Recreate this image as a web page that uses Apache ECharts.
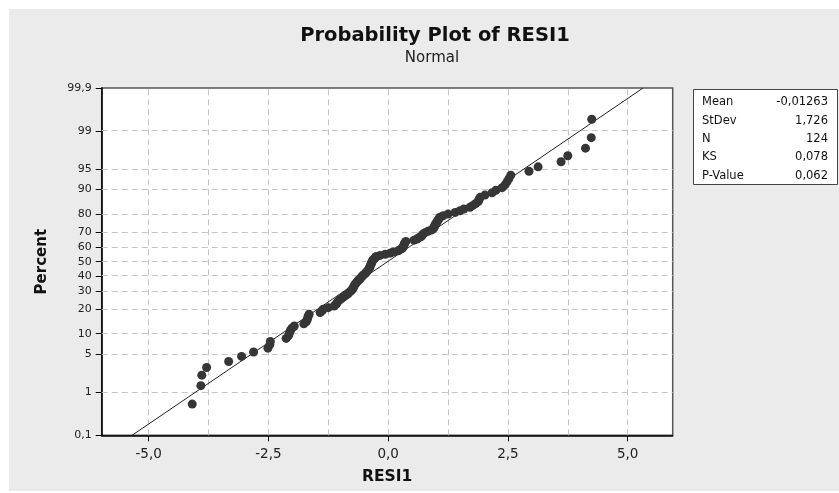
<!DOCTYPE html>
<html>
<head>
<meta charset="utf-8">
<script src="https://cdn.jsdelivr.net/npm/echarts@6/dist/echarts.min.js"></script>
<style>
html,body{margin:0;padding:0;background:#ffffff;}
#chart{width:839px;height:493px;}
</style>
</head>
<body>
<div id="chart"></div>
<script>
// ---- data ----
// sorted residuals (RESI1), one per observation
const residuals = [
  -4.09, -3.91, -3.89, -3.79, -3.33, -3.06, -2.81, -2.51, -2.47, -2.46,
  -2.13, -2.08, -2.06, -2.04, -2.01, -1.96, -1.76, -1.71, -1.69, -1.68,
  -1.67, -1.65, -1.42, -1.38, -1.36, -1.25, -1.13, -1.09, -1.07, -1.05,
  -1.02, -0.98, -0.94, -0.90, -0.86, -0.83, -0.80, -0.77, -0.75, -0.73,
  -0.72, -0.71, -0.69, -0.67, -0.65, -0.63, -0.60, -0.58, -0.56, -0.54,
  -0.51, -0.48, -0.46, -0.44, -0.42, -0.40, -0.39, -0.38, -0.37, -0.36,
  -0.35, -0.34, -0.33, -0.32, -0.29, -0.27, -0.25, -0.17, -0.06, 0.04,
  0.10, 0.21, 0.25, 0.29, 0.31, 0.32, 0.33, 0.34, 0.35, 0.37,
  0.54, 0.60, 0.64, 0.69, 0.71, 0.73, 0.77, 0.83, 0.90, 0.94,
  0.96, 0.97, 0.98, 1.00, 1.02, 1.04, 1.06, 1.08, 1.15, 1.25,
  1.40, 1.50, 1.58, 1.71, 1.77, 1.83, 1.88, 1.90, 1.92, 2.02,
  2.17, 2.25, 2.38, 2.44, 2.48, 2.52, 2.56, 2.94, 3.13, 3.61,
  3.75, 4.12, 4.24, 4.25
];
const fitMean = -0.01263;
const fitStDev = 1.726;
const percentTicks = [0.1, 1, 5, 10, 20, 30, 40, 50, 60, 70, 80, 90, 95, 99, 99.9];
const percentTickLabels = ['0,1','1','5','10','20','30','40','50','60','70','80','90','95','99','99,9'];
const xGridValues = [-5, -3.75, -2.5, -1.25, 0, 1.25, 2.5, 3.75, 5];
const xTickValues = [-5, -2.5, 0, 2.5, 5];
const xTickLabels = ['-5,0', '-2,5', '0,0', '2,5', '5,0'];
const statLabels = ['Mean', 'StDev', 'N', 'KS', 'P-Value'];
const statValues = ['-0,01263', '1,726', '124', '0,078', '0,062'];

// ---- normal probability scale ----
function normInv(p) {
  const a=[-3.969683028665376e+01,2.209460984245205e+02,-2.759285104469687e+02,1.383577518672690e+02,-3.066479806614716e+01,2.506628277459239e+00];
  const b=[-5.447609879822406e+01,1.615858368580409e+02,-1.556989798598866e+02,6.680131188771972e+01,-1.328068155288572e+01];
  const c=[-7.784894002430293e-03,-3.223964580411365e-01,-2.400758277161838e+00,-2.549732539343734e+00,4.374664141464968e+00,2.938163982698783e+00];
  const d=[7.784695709041462e-03,3.224671290700398e-01,2.445134137142996e+00,3.754408661907416e+00];
  const plow=0.02425, phigh=1-plow;
  let q, r;
  if (p < plow) { q=Math.sqrt(-2*Math.log(p)); return (((((c[0]*q+c[1])*q+c[2])*q+c[3])*q+c[4])*q+c[5])/((((d[0]*q+d[1])*q+d[2])*q+d[3])*q+1); }
  if (p <= phigh) { q=p-0.5; r=q*q; return (((((a[0]*r+a[1])*r+a[2])*r+a[3])*r+a[4])*r+a[5])*q/(((((b[0]*r+b[1])*r+b[2])*r+b[3])*r+b[4])*r+1); }
  q=Math.sqrt(-2*Math.log(1-p)); return -(((((c[0]*q+c[1])*q+c[2])*q+c[3])*q+c[4])*q+c[5])/((((d[0]*q+d[1])*q+d[2])*q+d[3])*q+1);
}
const zTicks = percentTicks.map(p => normInv(p / 100));
const zMin = zTicks[0], zMax = zTicks[zTicks.length - 1];
const n = residuals.length;
// median-rank plotting positions (Benard)
const points = residuals.map((x, i) => [x, normInv((i + 1 - 0.3) / (n + 0.4))]);
const fitLine = [[fitMean + zMin * fitStDev, zMin], [fitMean + zMax * fitStDev, zMax]];

function yLabel(v) {
  let best = 0, bd = Infinity;
  zTicks.forEach((z, i) => { const dd = Math.abs(z - v); if (dd < bd) { bd = dd; best = i; } });
  return percentTickLabels[best];
}
function xLabel(v) {
  let best = 0, bd = Infinity;
  xTickValues.forEach((t, i) => { const dd = Math.abs(t - v); if (dd < bd) { bd = dd; best = i; } });
  return xTickLabels[best];
}

const FONT = 'DejaVu Sans';
const gridDash = { color: '#c4c4c4', type: [6, 4], width: 1 };

const chart = echarts.init(document.getElementById('chart'), null, { renderer: 'canvas' });

const statGraphics = [];
statGraphics.push({
  type: 'rect', shape: { x: 693.5, y: 89.5, width: 144, height: 95 },
  style: { fill: '#ffffff', stroke: '#444444', lineWidth: 1 }, z: 10
});
statLabels.forEach((lab, i) => {
  statGraphics.push({ type: 'text', x: 702, y: 102.5 + i * 18.3, z: 11,
    style: { text: lab, fill: '#111', font: '11.5px "' + FONT + '"', textVerticalAlign: 'middle', textAlign: 'left' } });
  statGraphics.push({ type: 'text', x: 828, y: 102.5 + i * 18.3, z: 11,
    style: { text: statValues[i], fill: '#111', font: '11.5px "' + FONT + '"', textVerticalAlign: 'middle', textAlign: 'right' } });
});

chart.setOption({
  animation: false,
  backgroundColor: '#ffffff',
  textStyle: { fontFamily: FONT },
  graphic: [
    { type: 'rect', shape: { x: 9, y: 9, width: 830, height: 482 }, style: { fill: '#ebebeb' }, z: -10, silent: true }
  ].concat(statGraphics),
  title: [
    { text: 'Probability Plot of RESI1', left: 430, top: 21, textAlign: 'center',
      textStyle: { fontFamily: FONT, fontSize: 19.5, fontWeight: 'bold', color: '#111' } },
    { text: 'Normal', left: 427, top: 46, textAlign: 'center',
      textStyle: { fontFamily: FONT, fontSize: 15, fontWeight: 'normal', color: '#222' } }
  ],
  grid: {
    left: 101.7, top: 88, right: 166.3, bottom: 57.7,
    show: true, backgroundColor: '#ffffff', borderColor: '#555555', borderWidth: 1.5
  },
  xAxis: {
    type: 'value', min: -5.98, max: 5.94,
    name: 'RESI1', nameLocation: 'middle', nameGap: 34,
    nameTextStyle: { fontFamily: FONT, fontSize: 15.5, fontWeight: 'bold', color: '#111' },
    axisLine: { show: true, onZero: false, lineStyle: { color: '#000', width: 1.5 } },
    axisTick: { show: true, length: 6, customValues: xTickValues, lineStyle: { color: '#000' } },
    axisLabel: { customValues: xTickValues, formatter: xLabel, fontFamily: FONT, fontSize: 13.5, color: '#222', margin: 12 },
    splitLine: { show: false }
  },
  yAxis: {
    type: 'value', min: zMin, max: zMax,
    name: 'Percent', nameLocation: 'middle', nameGap: 52, nameRotate: 90,
    nameTextStyle: { fontFamily: FONT, fontSize: 15, fontWeight: 'bold', color: '#111' },
    axisLine: { show: true, onZero: false, lineStyle: { color: '#000', width: 1.5 } },
    axisTick: { show: true, length: 6, customValues: zTicks, lineStyle: { color: '#000' } },
    axisLabel: { customValues: zTicks, formatter: yLabel, fontFamily: FONT, fontSize: 11, color: '#222', margin: 10 },
    splitLine: { show: false }
  },
  series: [
    {
      type: 'line', data: fitLine, symbol: 'none', silent: true,
      lineStyle: { color: '#222222', width: 1 }, z: 3,
      markLine: {
        silent: true, symbol: 'none', label: { show: false }, lineStyle: gridDash, z: 1,
        data: xGridValues.map(v => ({ xAxis: v })).concat(
          zTicks.slice(1, zTicks.length - 1).map(v => ({ yAxis: v })))
      }
    },
    {
      type: 'scatter', data: points, symbol: 'circle', symbolSize: 9,
      itemStyle: { color: '#363636', opacity: 1 }, z: 4
    }
  ]
});
</script>
</body>
</html>
